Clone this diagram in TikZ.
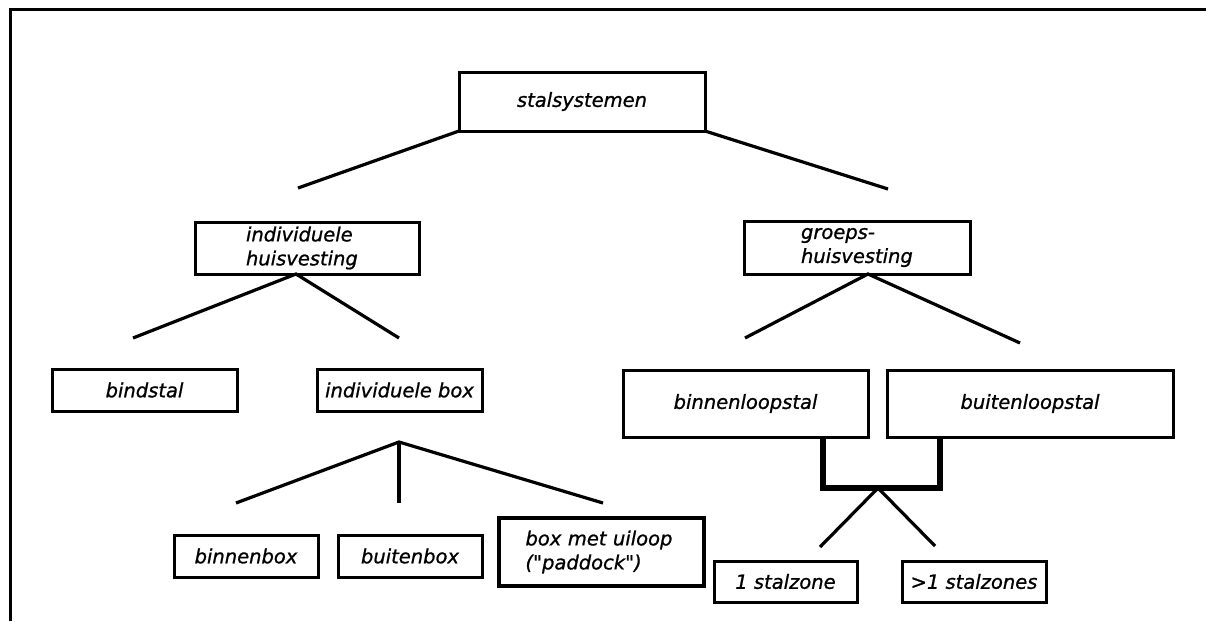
\documentclass[tikz,border=0pt]{standalone}
\usepackage{fontspec}
\newfontfamily\lblfont{DejaVu Sans}[ItalicFeatures={FakeBold=1}]
\newcommand{\lbl}{\lblfont\fontsize{19.5pt}{24pt}\selectfont\itshape}
\begin{document}
\begin{tikzpicture}[x=1pt,y=-1pt,
  box/.style={draw, line width=3pt, inner sep=0pt, outer sep=0pt, font=\lbl, align=center},
  heavybox/.style={box, line width=4.5pt},
  conn/.style={line width=3.2pt},
  heavyconn/.style={line width=4.2pt},
  bracketline/.style={line width=5.5pt, line join=miter}]
\useasboundingbox (0,0) rectangle (1206,621);
\fill[white] (0,0) rectangle (1206,621);
\draw[line width=3pt] (10,621) -- (10,9) -- (1206,9);

% boxes
\node[box, minimum width=246pt, minimum height=59pt] (sys) at (582,101.5) {stalsystemen};
\node[box, minimum width=224pt, minimum height=52pt, text width=122pt, align=left] (ind) at (307,248) {individuele\\huisvesting};
\node[box, minimum width=226pt, minimum height=53pt, text width=112pt, align=left] (grp) at (857,247.5) {groeps-\\huisvesting};
\node[box, minimum width=185pt, minimum height=42pt] (bind) at (144.5,390) {bindstal};
\node[box, minimum width=165pt, minimum height=42pt] (ibox) at (399.5,390) {individuele box};
\node[box, minimum width=144pt, minimum height=42pt] (binb) at (246,556) {binnenbox};
\node[box, minimum width=144pt, minimum height=42pt] (buib) at (410,556) {buitenbox};
\node[heavybox, minimum width=205pt, minimum height=68pt, text width=152pt, align=left] (pad) at (601.5,552) {box met uiloop\\("paddock")};
\node[box, minimum width=245pt, minimum height=67pt] (binl) at (745.5,403.5) {binnenloopstal};
\node[box, minimum width=286pt, minimum height=67pt] (buil) at (1030,403.5) {buitenloopstal};
\node[box, minimum width=143pt, minimum height=41pt] (z1) at (785.5,581.5) {1 stalzone};
\node[box, minimum width=144pt, minimum height=41pt] (z2) at (974,581.5) {>1 stalzones};

% free ends
\coordinate (s1) at (298,188);
\coordinate (s2) at (888,189);
\coordinate (i1) at (133,338);
\coordinate (i2) at (399,338);
\coordinate (g1) at (745,338);
\coordinate (g2) at (1020,343);
\coordinate (v) at (399,442);
\coordinate (v1) at (236,503);
\coordinate (v2) at (399,503);
\coordinate (v3) at (603,503);
\coordinate (bk) at (878,488);
\coordinate (k1) at (820,547);
\coordinate (k2) at (935,546);

% connectors
\draw[conn] (sys.south west) -- (s1);
\draw[conn] (sys.south east) -- (s2);
\draw[conn] (i1) -- ([xshift=-11pt]ind.south) -- (i2);
\draw[conn] (g1) -- ([xshift=11pt]grp.south) -- (g2);
\draw[conn] (v1) -- (v) -- (v3);
\draw[heavyconn] (v) -- (v2);
\draw[bracketline] ([xshift=77.5pt]binl.south) |- (bk) -| ([xshift=-90pt]buil.south);
\draw[conn] (k1) -- (bk) -- (k2);
\end{tikzpicture}
\end{document}
